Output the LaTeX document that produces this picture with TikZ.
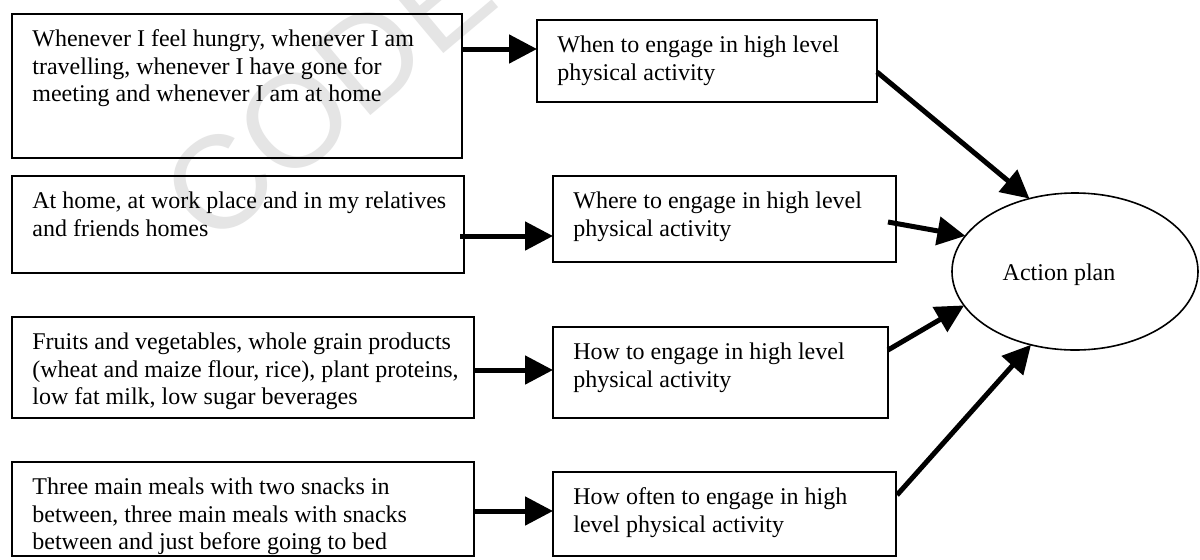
\documentclass[tikz,border=0pt]{standalone}
\usepackage{fontspec}
\setmainfont{Liberation Serif}
\newfontfamily\wmfont{Liberation Sans}
\usetikzlibrary{arrows.meta,shapes.geometric,calc}
\begin{document}
\begin{tikzpicture}[x=0.5pt,y=-0.5pt,
  box/.style={draw,line width=1pt,rectangle,inner sep=0pt,outer sep=0pt,anchor=north west},
  boxtext/.style={anchor=north west,inner sep=0pt,align=left,font=\fontsize{12}{13.8}\selectfont},
  flow/.style={line width=2.5pt,-{Triangle[length=14pt,width=14pt]}},
  wmark/.style={inner sep=0pt,text=black!10,font=\wmfont\fontsize{66}{66}\selectfont}]
\useasboundingbox[fill=white] (0,0) rectangle (1200,559);

% faint stamp in the background
\begin{scope}
\clip (0,0) rectangle (1200,559);
\node[wmark,rotate=40] (wm) at (328,92) {CODE};
\end{scope}

% left column: what / where / which / how often
\node[box,minimum width=225pt,minimum height=72pt]   (a1) at (12,14)  {};
\node[box,minimum width=226pt,minimum height=48.5pt] (a2) at (12,176) {};
\node[box,minimum width=231pt,minimum height=50.5pt] (a3) at (12,317) {};
\node[box,minimum width=231pt,minimum height=47pt]   (a4) at (12,462) {};

\node[boxtext] (a1t) at (32,26)  {\rule{0pt}{10pt}Whenever I feel hungry, whenever I am\\travelling, whenever I have gone for\\meeting and whenever I am at home};
\node[boxtext] (a2t) at (32,188) {\rule{0pt}{10pt}At home, at work place and in my relatives\\and friends homes};
\node[boxtext] (a3t) at (32,329) {\rule{0pt}{10pt}Fruits and vegetables, whole grain products\\(wheat and maize flour, rice), plant proteins,\\low fat milk, low sugar beverages};
\node[boxtext] (a4t) at (32,474) {\rule{0pt}{10pt}Three main meals with two snacks in\\between, three main meals with snacks\\between and just before going to bed};

% middle column
\node[box,minimum width=170pt,minimum height=41pt]   (b1) at (537,20)  {};
\node[box,minimum width=171.5pt,minimum height=43pt] (b2) at (553,176) {};
\node[box,minimum width=167.5pt,minimum height=45.5pt] (b3) at (553,327) {};
\node[box,minimum width=171.5pt,minimum height=42pt] (b4) at (553,472) {};

\node[boxtext] (b1t) at (557,32)  {\rule{0pt}{10pt}When to engage in high level\\physical activity};
\node[boxtext] (b2t) at (573,188) {\rule{0pt}{10pt}Where to engage in high level\\physical activity};
\node[boxtext] (b3t) at (573,339) {\rule{0pt}{10pt}How to engage in high level\\physical activity};
\node[boxtext] (b4t) at (573,484) {\rule{0pt}{10pt}How often to engage in high\\level physical activity};

% goal
\node[draw,ellipse,line width=0.8pt,minimum width=123pt,minimum height=78.5pt,
      inner sep=0pt,outer sep=0pt] (ap) at (1075,271.5) {};
\node[anchor=base,inner sep=0pt,font=\fontsize{12}{13.8}\selectfont] (apt) at (1059,280) {Action plan};

% horizontal links
\draw[flow] ($(a1.north east)+(0,35)$) coordinate (s1) -- (s1 -| b1.west);
\draw[flow] ($(a2.north east)+(-4,60)$) coordinate (s2) -- (s2 -| b2.west);
\draw[flow] ($(a3.north east)+(0,53)$) coordinate (s3) -- (s3 -| b3.west);
\draw[flow] ($(a4.north east)+(0,49)$) coordinate (s4) -- (s4 -| b4.west);

% links into the action plan
\draw[flow] ($(b1.north east)+(0,52)$) -- (ap.122.3);
\draw[flow] ($(b2.north east)+(-8,46)$) -- (ap.162.6);
\draw[flow] ($(b3.north east)+(0,23)$) -- (ap.197.7);
\draw[flow] ($(b4.north east)+(1,23)$) -- (ap.239.3);
\end{tikzpicture}
\end{document}
